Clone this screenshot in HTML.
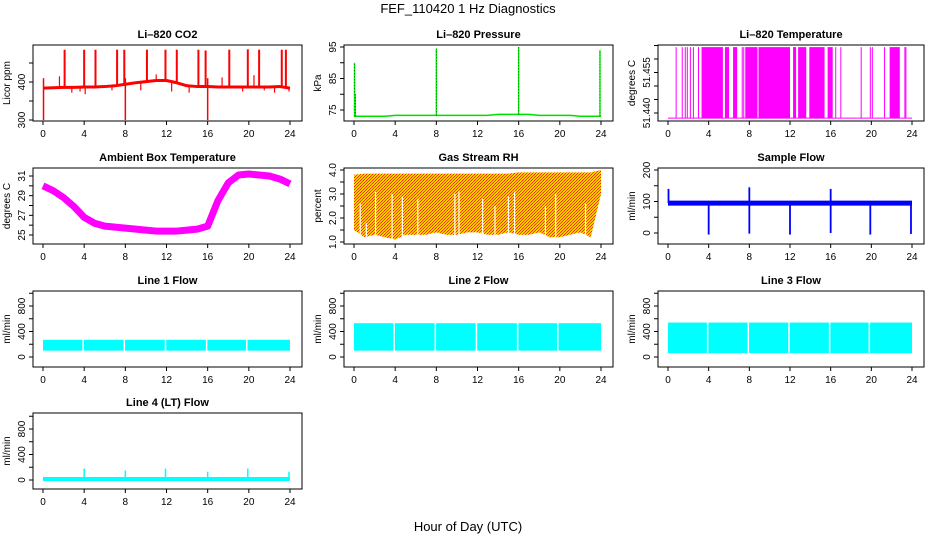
<!DOCTYPE html>
<html><head><meta charset="utf-8"><style>
html,body{margin:0;padding:0;background:#fff}
svg{display:block;font-family:"Liberation Sans",Arial,sans-serif}
</style></head><body>
<svg id="chart" width="936" height="540" viewBox="0 0 936 540" xmlns="http://www.w3.org/2000/svg">
<defs>
<pattern id="rhpat" width="3" height="3" patternUnits="userSpaceOnUse">
<rect width="3" height="3" fill="#ffd000"/><rect width="1" height="1" fill="#ff2000"/><rect x="2" y="1" width="1" height="1" fill="#ff4000"/><rect x="1" y="2" width="1" height="1" fill="#ff3000"/>
</pattern>
</defs>
<text x="468" y="13" text-anchor="middle" font-size="13">FEF_110420  1 Hz Diagnostics</text>
<text x="468" y="531" text-anchor="middle" font-size="13">Hour of Day (UTC)</text>
</svg>
<script>
// ---- data ----
const hours = [0,1,2,3,4,5,6,7,8,9,10,11,12,13,14,15,16,17,18,19,20,21,22,23,24];
const xTicks = [0,4,8,12,16,20,24];

const co2Base = [384,385,386,386,387,387,388,390,394,398,401,404,404,398,390,388,388,387,387,387,387,387,387,388,384];
const co2UpH = [2.1,4.0,5.1,7.2,7.9,10.1,11.9,13.0,15.1,15.8,18.1,19.9,21.0,23.2,23.6];
const co2UpV = [485,485,485,485,485,485,485,485,485,483,485,486,485,485,485];
const co2DnH = [0.05,8.0,16.0];
const co2DnV = [300,300,300];
const co2SmH = [1.6,2.8,3.6,4.1,6.7,9.5,11.0,12.5,14.2,17.4,19.4,20.5,21.5,22.5,23.9];
const co2SmV = [415,372,375,368,378,378,420,375,372,412,375,418,378,372,375];

const presBase = [73,73,73,73,73.3,73.3,73.3,73.3,73.3,73.3,73.3,73.3,73.3,73.3,73.6,73.6,73.6,73.6,73.3,73.3,73.3,73.3,73,73,73];
const presSpH = [0.05,0.12,8.0,16.0,23.9];
const presSpV = [90,80,94.5,95,94];

const tempLow = 51.4381;
const tempHigh = 51.4644;
const tempBandStart = [3.3,5.6,6.4,7.6,8.9,12.3,12.8,13.9,15.7,21.8];
const tempBandEnd = [5.4,6.0,6.8,8.8,12.0,12.6,13.6,15.4,16.2,22.8];
const tempLineH = [0.8,1.4,1.7,1.9,2.2,2.5,3.0,7.3,7.45,16.5,17.0,19.0,19.9,20.1,21.3,23.3,23.4];

const ambTemp = [30.0,29.5,28.8,27.9,26.8,26.2,25.9,25.8,25.7,25.6,25.5,25.4,25.4,25.4,25.5,25.6,25.9,28.5,30.3,31.1,31.2,31.1,31.0,30.7,30.2];

const rhTop = [3.8,3.85,3.85,3.85,3.85,3.85,3.85,3.85,3.85,3.85,3.85,3.85,3.85,3.85,3.85,3.85,3.9,3.9,3.9,3.9,3.9,3.9,3.9,3.9,4.0];
const rhBot = [1.5,1.2,1.3,1.2,1.1,1.3,1.3,1.3,1.4,1.3,1.3,1.4,1.4,1.3,1.3,1.4,1.3,1.3,1.4,1.2,1.2,1.3,1.4,1.2,3.0];
const rhGapH = [0.6,1.2,2.1,3.7,4.7,6.2,9.8,10.2,12.5,13.7,15.0,15.6,18.6,19.6,22.5];
const rhGapV = [2.6,1.8,3.1,3.0,2.9,2.8,3.0,3.1,2.8,2.5,2.9,3.1,2.5,3.0,2.6];

const sampleBase = 95;
const sampleDropH = [4.0,8.0,12.0,16.0,19.9,23.9];
const sampleDropV = [-5,-2,-5,0,-5,-3];
const sampleSpH = [0.05,8.0,16.0];
const sampleSpV = [140,145,140];

const flowLow = [100,100,60];
const flowHigh = [270,530,540];
const flowGapH = [3.9,7.9,11.9,15.9,19.8];
const line4Base = 15;
const line4SpH = [4.0,8.0,11.9,16.0,19.9,23.9];
const line4SpV = [180,150,180,130,180,130];

// ---- layout ----
const colL=[33,344,658], colW=[269,269,266], rowT=[45,168,291,413], BH=76;
const svg=document.getElementById('chart');
const NS='http://www.w3.org/2000/svg';
function mk(tag,attrs,parent){const e=document.createElementNS(NS,tag);for(const k in attrs)e.setAttribute(k,attrs[k]);(parent||svg).appendChild(e);return e;}

const panels=[
 {key:'co2',c:0,r:0,title:'Li\u2013820 CO2',ylab:'Licor ppm',v1:300,p1:75,v2:400,p2:37,ticks:[300,350,400,450],labels:[300,400],fmt:v=>String(v)},
 {key:'pressure',c:1,r:0,title:'Li\u2013820 Pressure',ylab:'kPa',v1:75,p1:65,v2:95,p2:2,ticks:[75,80,85,90,95],labels:[75,85,95],fmt:v=>String(v)},
 {key:'litemp',c:2,r:0,title:'Li\u2013820 Temperature',ylab:'degrees C',v1:51.440,p1:68,v2:51.455,p2:27.5,ticks:[51.440,51.445,51.450,51.455,51.460,51.465],labels:[51.440,51.455],fmt:v=>v.toFixed(3)},
 {key:'ambient',c:0,r:1,title:'Ambient Box Temperature',ylab:'degrees C',v1:25,p1:67,v2:31,p2:8,ticks:[25,26,27,28,29,30,31],labels:[25,27,29,31],fmt:v=>String(v)},
 {key:'rh',c:1,r:1,title:'Gas Stream RH',ylab:'percent',v1:1,p1:74,v2:4,p2:2,ticks:[1,1.5,2,2.5,3,3.5,4],labels:[1,2,3,4],fmt:v=>v.toFixed(1)},
 {key:'sample',c:2,r:1,title:'Sample Flow',ylab:'ml/min',v1:0,p1:65,v2:200,p2:2,ticks:[0,50,100,150,200],labels:[0,100,200],fmt:v=>String(v)},
 {key:'line1',c:0,r:2,title:'Line 1 Flow',ylab:'ml/min',v1:0,p1:66,v2:800,p2:15,ticks:[0,200,400,600,800,1000],labels:[0,400,800],fmt:v=>String(v)},
 {key:'line2',c:1,r:2,title:'Line 2 Flow',ylab:'ml/min',v1:0,p1:66,v2:800,p2:15,ticks:[0,200,400,600,800,1000],labels:[0,400,800],fmt:v=>String(v)},
 {key:'line3',c:2,r:2,title:'Line 3 Flow',ylab:'ml/min',v1:0,p1:66,v2:800,p2:15,ticks:[0,200,400,600,800,1000],labels:[0,400,800],fmt:v=>String(v)},
 {key:'line4',c:0,r:3,title:'Line 4 (LT) Flow',ylab:'ml/min',v1:0,p1:67,v2:800,p2:16,ticks:[0,200,400,600,800,1000],labels:[0,400,800],fmt:v=>String(v)}
];

panels.forEach(p=>{
  const L=colL[p.c], T=rowT[p.r], Wd=colW[p.c];
  const x=h=>L+10+h*(Wd-22)/24;
  const y=v=>T+p.p1+(v-p.v1)*(p.p2-p.p1)/(p.v2-p.v1);
  const g=mk('g',{});
  
  
  const clip=mk('clipPath',{id:'clip-'+p.key},g);
  mk('rect',{x:L,y:T,width:Wd,height:BH},clip);
  const plot=mk('g',{'clip-path':'url(#clip-'+p.key+')'},g);
  
  
  const line=(h1,v1,h2,v2,col,w,nm)=>{const e=mk('line',{x1:x(h1),y1:y(v1),x2:x(h2),y2:y(v2),stroke:col,'stroke-width':w},plot);
    
    return e;};
  const poly=(pts,col,w,nm)=>{const e=mk('polyline',{points:pts.map(q=>x(q[0])+','+y(q[1])).join(' '),fill:'none',stroke:col,'stroke-width':w,'stroke-linejoin':'round'},plot);
    
    return e;};
  const band=(lo,hi,fill,nm)=>{const pts=hours.map((h,i)=>[h,hi[i]]).concat(hours.slice().reverse().map((h,i)=>[h,lo[hours.length-1-i]]));
    const e=mk('polygon',{points:pts.map(q=>x(q[0])+','+y(q[1])).join(' '),fill:fill},plot);
    
    return e;};

  if(p.key==='co2'){
    co2SmH.forEach((h,i)=>line(h,co2Base[Math.round(h)],h,co2SmV[i],'#ff0000',1.2,'co2-minor-spike'));
    poly(hours.map((h,i)=>[h,co2Base[i]]),'#ff0000',3,'co2-series');
    co2UpH.forEach((h,i)=>line(h,co2Base[Math.round(h)],h,co2UpV[i],'#ff0000',2,'co2-spike'));
    co2DnH.forEach((h,i)=>line(h,410,h,co2DnV[i],'#ff0000',1.5,'co2-drop'));
  }
  if(p.key==='pressure'){
    poly(hours.map((h,i)=>[h,presBase[i]]),'#00e000',1.5,'pressure-series');
    presSpH.forEach((h,i)=>{line(h,presBase[Math.round(h)],h,presSpV[i],'#00ff00',1.5,'pressure-spike');line(h,presBase[Math.round(h)],h,presSpV[i],'#000',0.6,'pressure-spike-dots').setAttribute('stroke-dasharray','1,2');});
  }
  if(p.key==='litemp'){
    line(0,tempLow,24,tempLow,'#ff00ff',1,'temp-baseline');
    tempBandStart.forEach((s,i)=>{const e=mk('rect',{x:x(s),y:y(tempHigh),width:x(tempBandEnd[i])-x(s),height:y(tempLow)-y(tempHigh),fill:'#ff00ff'},plot);
      
      });
    tempLineH.forEach(h=>line(h,tempLow,h,tempHigh,'#ff00ff',1,'temp-toggle-line'));
  }
  if(p.key==='ambient'){
    poly(hours.map((h,i)=>[h,ambTemp[i]]),'#ff00ff',7,'ambient-series');
  }
  if(p.key==='rh'){
    band(rhBot,rhTop,'url(#rhpat)','rh-series');
    rhGapH.forEach((h,i)=>line(h,0.9,h,rhGapV[i],'#ffffff',1.2,'rh-gap'));
  }
  if(p.key==='sample'){
    poly(hours.map(h=>[h,sampleBase]),'#0000ff',5,'sample-series');
    sampleDropH.forEach((h,i)=>line(h,sampleBase,h,sampleDropV[i],'#0000ff',1.8,'sample-drop'));
    sampleSpH.forEach((h,i)=>line(h,sampleBase,h,sampleSpV[i],'#0000ff',1.8,'sample-spike'));
  }
  if(p.key.startsWith('line')&&p.key!=='line4'){
    const k=+p.key.slice(4)-1;
    const e=mk('rect',{x:x(0),y:y(flowHigh[k]),width:x(24)-x(0),height:y(flowLow[k])-y(flowHigh[k]),fill:'#00ffff'},plot);
    
    
    flowGapH.forEach(h=>line(h,flowLow[k]-20,h,flowHigh[k]+20,'#ffffff',1.5,p.key+'-gap'));
  }
  if(p.key==='line4'){
    poly(hours.map(h=>[h,line4Base]),'#00ffff',4,'line4-series');
    line4SpH.forEach((h,i)=>line(h,line4Base,h,line4SpV[i],'#00ffff',1.5,'line4-spike'));
  }

  const box=mk('rect',{x:L,y:T,width:Wd,height:BH,fill:'none',stroke:'#000','stroke-width':1},g);
  
  
  const t=mk('text',{x:L+Wd/2,y:T-7,'text-anchor':'middle','font-size':11,'font-weight':'bold'},g);
  t.textContent=p.title;
  
  
  const yl=mk('text',{x:0,y:0,'text-anchor':'middle','font-size':10,transform:'translate('+(L-23)+','+(T+BH/2)+') rotate(-90)'},g);
  yl.textContent=p.ylab;
  
  
  p.ticks.forEach(v=>{const tk=mk('line',{x1:L-4,y1:y(v),x2:L,y2:y(v),stroke:'#000'},g);
    
    });
  p.labels.forEach(v=>{const lb=mk('text',{x:0,y:0,'text-anchor':'middle','font-size':10,transform:'translate('+(L-8)+','+y(v)+') rotate(-90)'},g);
    lb.textContent=p.fmt(v);
    
    });
  xTicks.forEach(h=>{const tk=mk('line',{x1:x(h),y1:T+BH,x2:x(h),y2:T+BH+4,stroke:'#000'},g);
    
    
    const lb=mk('text',{x:x(h),y:T+BH+16,'text-anchor':'middle','font-size':10},g);
    lb.textContent=String(h);
    
    });
});
</script>
</body></html>
